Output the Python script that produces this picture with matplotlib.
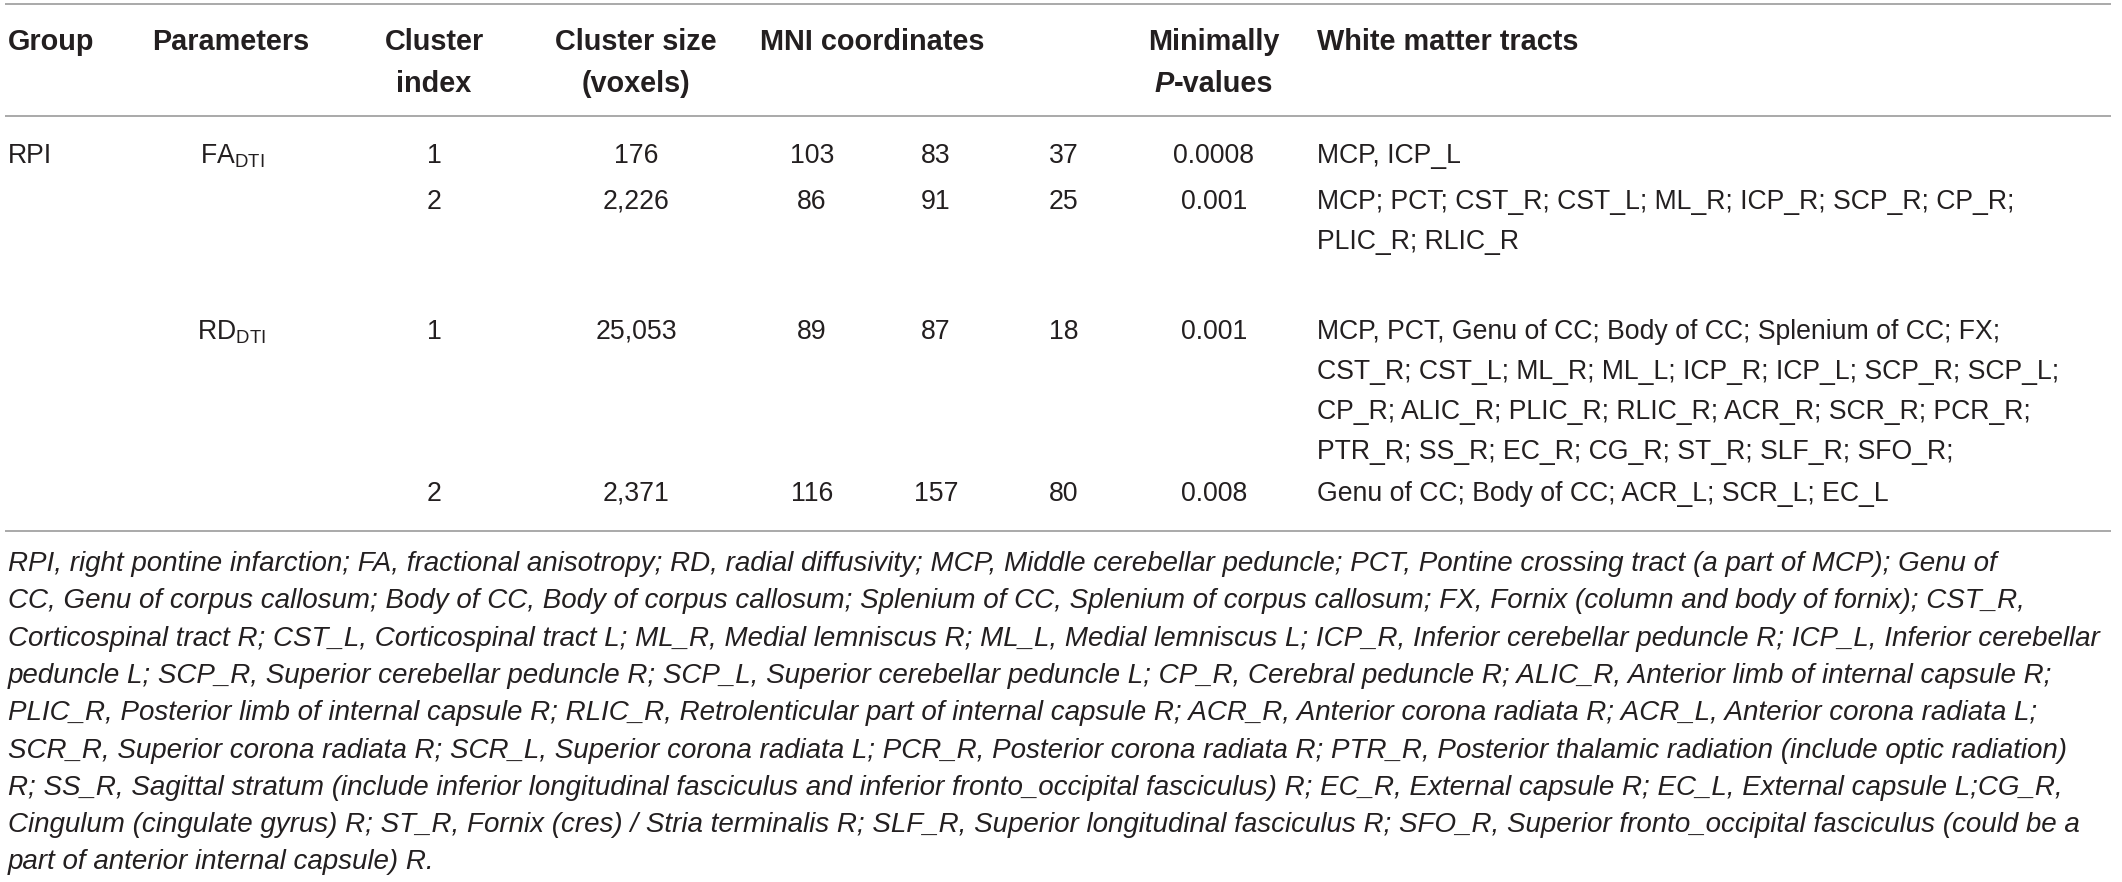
import matplotlib
matplotlib.use("Agg")
import matplotlib.pyplot as plt

plt.rcParams['font.family'] = 'Liberation Sans'
plt.rcParams['mathtext.fontset'] = 'custom'
plt.rcParams['mathtext.rm'] = 'Liberation Sans'
plt.rcParams['mathtext.it'] = 'Liberation Sans:italic'
plt.rcParams['mathtext.bf'] = 'Liberation Sans:bold'

# --- table content ---
groups = ["RPI", "", "", ""]
params = [r"FA$_{\rm DTI}$", "", r"RD$_{\rm DTI}$", ""]
cluster_index = ["1", "2", "1", "2"]
cluster_size = ["176", "2,226", "25,053", "2,371"]
mni_x = ["103", "86", "89", "116"]
mni_y = ["83", "91", "87", "157"]
mni_z = ["37", "25", "18", "80"]
p_values = ["0.0008", "0.001", "0.001", "0.008"]
tracts = [
    ["MCP, ICP_L"],
    ["MCP; PCT; CST_R; CST_L; ML_R; ICP_R; SCP_R; CP_R;",
     "PLIC_R; RLIC_R"],
    ["MCP, PCT, Genu of CC; Body of CC; Splenium of CC; FX;",
     "CST_R; CST_L; ML_R; ML_L; ICP_R; ICP_L; SCP_R; SCP_L;",
     "CP_R; ALIC_R; PLIC_R; RLIC_R; ACR_R; SCR_R; PCR_R;",
     "PTR_R; SS_R; EC_R; CG_R; ST_R; SLF_R; SFO_R;"],
    ["Genu of CC; Body of CC; ACR_L; SCR_L; EC_L"],
]
footnote = [
    "RPI, right pontine infarction; FA, fractional anisotropy; RD, radial diffusivity; MCP, Middle cerebellar peduncle; PCT, Pontine crossing tract (a part of MCP); Genu of",
    "CC, Genu of corpus callosum; Body of CC, Body of corpus callosum; Splenium of CC, Splenium of corpus callosum; FX, Fornix (column and body of fornix); CST_R,",
    "Corticospinal tract R; CST_L, Corticospinal tract L; ML_R, Medial lemniscus R; ML_L, Medial lemniscus L; ICP_R, Inferior cerebellar peduncle R; ICP_L, Inferior cerebellar",
    "peduncle L; SCP_R, Superior cerebellar peduncle R; SCP_L, Superior cerebellar peduncle L; CP_R, Cerebral peduncle R; ALIC_R, Anterior limb of internal capsule R;",
    "PLIC_R, Posterior limb of internal capsule R; RLIC_R, Retrolenticular part of internal capsule R; ACR_R, Anterior corona radiata R; ACR_L, Anterior corona radiata L;",
    "SCR_R, Superior corona radiata R; SCR_L, Superior corona radiata L; PCR_R, Posterior corona radiata R; PTR_R, Posterior thalamic radiation (include optic radiation)",
    "R; SS_R, Sagittal stratum (include inferior longitudinal fasciculus and inferior fronto_occipital fasciculus) R; EC_R, External capsule R; EC_L, External capsule L;CG_R,",
    "Cingulum (cingulate gyrus) R; ST_R, Fornix (cres) / Stria terminalis R; SLF_R, Superior longitudinal fasciculus R; SFO_R, Superior fronto_occipital fasciculus (could be a",
    "part of anterior internal capsule) R.",
]

# --- layout (pixels) ---
W, H = 2122, 882
ink = "#231f20"
rule = "#9b9b9b"
col_group = 8
col_param = 232
col_index = 434
col_size = 636
col_mni = [812, 936, 1064]
col_p = 1214
col_tract = 1317
row_base = [163, 209, 339, 501]
line_gap = 40
foot_top = 571
foot_gap = 37.3

fig = plt.figure(figsize=(W / 100, H / 100), dpi=100)
ax = fig.add_axes([0, 0, 1, 1])
ax.set_xlim(0, W)
ax.set_ylim(H, 0)
ax.axis("off")
renderer = fig.canvas.get_renderer()

# fit the footnote font size so the widest line fills the width
probe = [ax.text(0, 0, s, fontsize=10, style="italic") for s in footnote]
widest = max(t.get_window_extent(renderer).width for t in probe)
for t in probe:
    t.remove()
fs = 10 * 2104 / widest
fs_head = fs * 1.04
fs_body = fs * 0.96

for y in (4, 116, 531):
    ax.plot([5, 2111], [y, y], color=rule, lw=1.2, solid_capstyle="butt")

# header
hb = dict(fontsize=fs_head, fontweight="bold", color=ink, va="baseline")
ax.text(col_group, 50, "Group", ha="left", **hb)
ax.text(152, 50, "Parameters", ha="left", **hb)
ax.text(col_index, 50, "Cluster", ha="center", **hb)
ax.text(col_index, 92, "index", ha="center", **hb)
ax.text(col_size, 50, "Cluster size", ha="center", **hb)
ax.text(col_size, 92, "(voxels)", ha="center", **hb)
ax.text(760, 50, "MNI coordinates", ha="left", **hb)
ax.text(col_p, 50, "Minimally", ha="center", **hb)
ax.text(col_tract, 50, "White matter tracts", ha="left", **hb)
tp = ax.text(0, 0, "P", fontsize=fs_head, fontweight="bold", style="italic")
tv = ax.text(0, 0, "-values", fontsize=fs_head, fontweight="bold")
wp = tp.get_window_extent(renderer).width
wv = tv.get_window_extent(renderer).width
tp.remove()
tv.remove()
x0 = col_p - (wp + wv) / 2
ax.text(x0, 92, "P", ha="left", style="italic", **hb)
ax.text(x0 + wp, 92, "-values", ha="left", **hb)

# body
kb = dict(fontsize=fs_body, color=ink, va="baseline")
for i, yb in enumerate(row_base):
    ax.text(col_group, yb, groups[i], ha="left", **kb)
    ax.text(col_param, yb, params[i], ha="center", **kb)
    ax.text(col_index, yb, cluster_index[i], ha="center", **kb)
    ax.text(col_size, yb, cluster_size[i], ha="center", **kb)
    for xc, v in zip(col_mni, (mni_x[i], mni_y[i], mni_z[i])):
        ax.text(xc, yb, v, ha="center", **kb)
    ax.text(col_p, yb, p_values[i], ha="center", **kb)
    for j, line in enumerate(tracts[i]):
        ax.text(col_tract, yb + j * line_gap, line, ha="left", **kb)

# footnote
fb = dict(fontsize=fs, color=ink, va="baseline", style="italic")
for k, line in enumerate(footnote):
    ax.text(8, foot_top + k * foot_gap, line, ha="left", **fb)

fig.savefig("out.png", dpi=100)
